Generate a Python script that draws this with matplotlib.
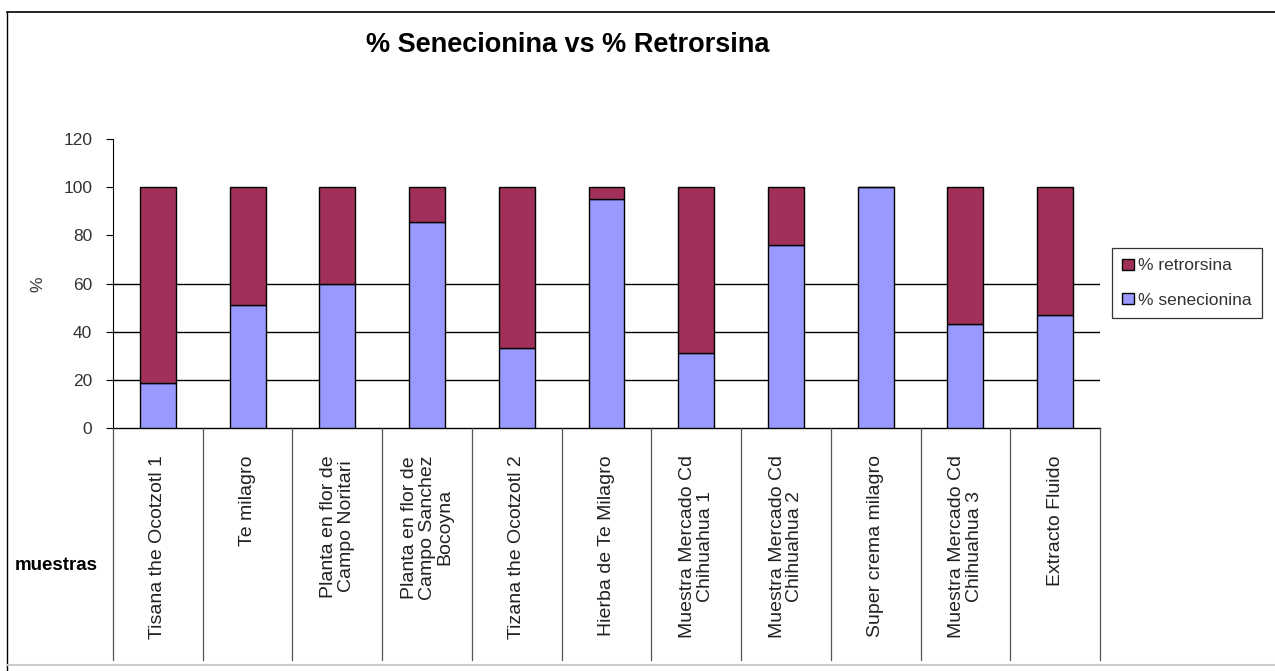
import matplotlib
matplotlib.use("Agg")
import matplotlib.pyplot as plt
from matplotlib.lines import Line2D
from matplotlib.patches import Patch
import numpy as np

plt.rcParams['font.family'] = ['Liberation Sans', 'DejaVu Sans']

muestras = [
    "Tisana the Ocotzotl 1",
    "Te milagro",
    "Planta en flor de\nCampo Noritari",
    "Planta en flor de\nCampo Sanchez\nBocoyna",
    "Tizana the Ocotzotl 2",
    "Hierba de Te Milagro",
    "Muestra Mercado Cd\nChihuahua 1",
    "Muestra Mercado Cd\nChihuahua 2",
    "Super crema milagro",
    "Muestra Mercado Cd\nChihuahua 3",
    "Extracto Fluido",
]
senecionina = [18.7, 51.2, 59.6, 85.7, 33.4, 95.1, 31.1, 76.0, 100.0, 43.3, 46.9]
retrorsina = [100 - v for v in senecionina]

W, H = 1275, 671
fig = plt.figure(figsize=(W / 100, H / 100), dpi=100)

def fx(px):
    return px / W

def fy(py):
    return 1 - py / H

# plot area
left, right, top, bottom = 113, 1100, 139, 428
ax = fig.add_axes([fx(left), fy(bottom), fx(right) - fx(left), fy(top) - fy(bottom)])

x = np.arange(len(muestras))
ax.bar(x, senecionina, width=0.4, color='#9999FF', edgecolor='black', linewidth=1.0,
       label='% senecionina', zorder=3)
ax.bar(x, retrorsina, width=0.4, bottom=senecionina, color='#A0305A', edgecolor='black',
       linewidth=1.0, label='% retrorsina', zorder=3)

for g in [20, 40, 60]:
    ax.axhline(g, color='black', linewidth=1.0, zorder=1)

ax.set_xlim(-0.5, len(muestras) - 0.5)
ax.set_ylim(0, 120)
ax.set_yticks(range(0, 121, 20))
ax.tick_params(axis='y', direction='out', length=5, width=0.8, labelsize=12.5,
               labelcolor='#333333', pad=10)
ax.set_xticks([])
for side in ['top', 'right']:
    ax.spines[side].set_visible(False)
ax.spines['left'].set_linewidth(0.8)
ax.spines['bottom'].set_linewidth(1.0)
ax.set_facecolor('none')

fig.text(fx(38), fy(284), '%', rotation=90, ha='center', va='center', fontsize=12.5, color='#333333')

# category table under the axis
tab_bottom = 660
tab = fig.add_axes([fx(left), fy(tab_bottom), fx(right) - fx(left), fy(bottom) - fy(tab_bottom)])
tab.set_xlim(-0.5, len(muestras) - 0.5)
tab.set_ylim(0, 1)
tab.axis('off')
for b in np.arange(len(muestras) + 1) - 0.5:
    tab.plot([b, b], [0, 1], color='#555555', linewidth=0.9, clip_on=False)
label_top = 1 - (455 - bottom) / (tab_bottom - bottom)
for i, name in enumerate(muestras):
    tab.text(i, label_top, name, rotation=90, ha='center', va='top',
             multialignment='center', fontsize=14, color='#222222', linespacing=1.05)

fig.text(fx(15), fy(565), 'muestras', ha='left', va='center', fontsize=13.5, fontweight='bold')

fig.text(fx(568), fy(45), '% Senecionina vs % Retrorsina', ha='center', va='center',
         fontsize=19.5, fontweight='bold')

handles = [Patch(facecolor='#A0305A', edgecolor='black', label='% retrorsina'),
           Patch(facecolor='#9999FF', edgecolor='black', label='% senecionina')]
leg = fig.legend(handles=handles, loc='upper left', bbox_to_anchor=(fx(1112), fy(248)),
                 fontsize=12.5, frameon=True, fancybox=False, handlelength=0.65, handleheight=0.65,
                 handletextpad=0.25, labelspacing=1.1, borderpad=0.6, borderaxespad=0)
leg.get_frame().set_edgecolor('black')
leg.get_frame().set_linewidth(0.9)
for t in leg.get_texts():
    t.set_color('#333333')

# outer frame of the chart
fig.add_artist(Line2D([fx(7), 1], [fy(12), fy(12)], color='black', linewidth=1.2))
fig.add_artist(Line2D([fx(7), fx(7)], [fy(12), 0], color='black', linewidth=1.0))
fig.add_artist(Line2D([fx(7), 1], [fy(665), fy(665)], color='#cccccc', linewidth=1.5))

fig.savefig('out.png', dpi=100)
